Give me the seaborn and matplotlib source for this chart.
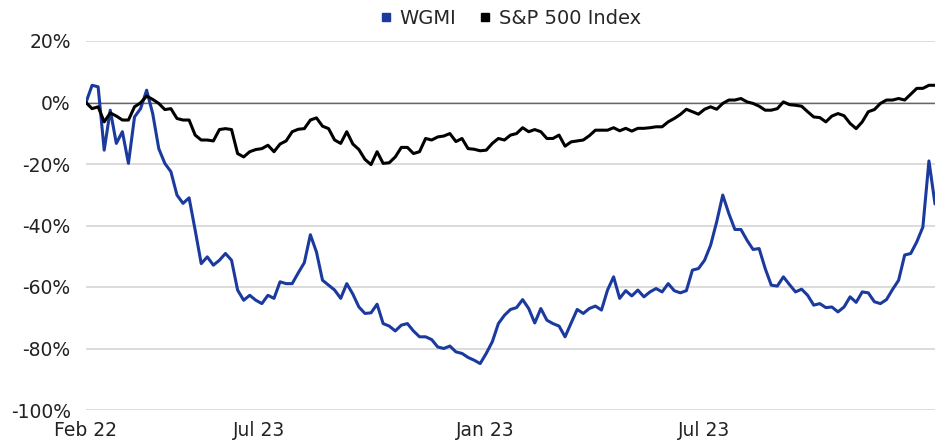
import pandas as pd
import matplotlib
matplotlib.use("Agg")
import matplotlib.pyplot as plt
import seaborn as sns
from matplotlib.lines import Line2D

# Cumulative returns (%), one value every 5 days from the fund's launch
dates = pd.date_range("2022-02-08", periods=141, freq="5D")

wgmi = [
    0, 5.6, 5.1, -15.5, -2.5, -13.3, -9.5, -19.8, -4.7, -2.0,
    4.0, -3.6, -15.0, -19.8, -22.5, -30.1, -32.8, -31.0, -41.5, -52.4,
    -50.2, -52.9, -51.3, -49.1, -51.3, -61.0, -64.3, -62.7, -64.3, -65.4,
    -62.7, -63.7, -58.3, -58.9, -58.9, -55.4, -52.1, -43.0, -48.6, -57.8,
    -59.4, -61.0, -63.7, -58.9, -62.3, -66.5, -68.6, -68.4, -65.6, -71.9,
    -72.7, -74.3, -72.4, -71.9, -74.3, -76.2, -76.2, -77.1, -79.5, -80.0,
    -79.2, -81.1, -81.6, -82.9, -83.8, -84.9, -81.6, -77.8, -71.9, -69.2,
    -67.3, -66.7, -64.1, -67.0, -71.7, -67.0, -70.8, -71.9, -72.7, -76.2,
    -71.7, -67.3, -68.6, -67.0, -66.2, -67.5, -61.0, -56.7, -63.7, -61.2,
    -62.9, -61.0, -63.2, -61.6, -60.5, -61.6, -58.9, -61.2, -61.9, -61.2,
    -54.5, -54.0, -51.3, -46.4, -38.8, -30.1, -36.1, -41.3, -41.3, -44.8,
    -47.8, -47.5, -54.0, -59.4, -59.7, -56.7, -59.2, -61.6, -60.7, -62.7,
    -65.9, -65.4, -66.7, -66.5, -68.1, -66.5, -63.2, -65.0, -61.6, -61.9,
    -64.8, -65.4, -64.1, -60.8, -57.8, -49.6, -49.1, -45.3, -40.5, -19.0,
    -33.0,
]

spx = [
    0, -2.0, -1.4, -6.3, -3.4, -4.4, -5.7, -5.7, -1.4, -0.1,
    2.1, 1.0, -0.3, -2.3, -2.0, -5.2, -5.7, -5.7, -10.6, -12.2,
    -12.2, -12.5, -8.8, -8.5, -8.8, -16.6, -17.7, -16.0, -15.3, -15.0,
    -13.9, -16.0, -13.5, -12.5, -9.5, -8.7, -8.5, -5.7, -5.0, -7.7,
    -8.5, -12.2, -13.3, -9.5, -13.5, -15.3, -18.5, -20.2, -16.0, -19.8,
    -19.6, -17.7, -14.6, -14.6, -16.6, -16.0, -11.7, -12.2, -11.2, -10.9,
    -10.1, -12.7, -11.7, -15.0, -15.2, -15.7, -15.5, -13.3, -11.7, -12.2,
    -10.6, -10.1, -8.2, -9.5, -8.8, -9.5, -11.7, -11.7, -10.6, -14.2,
    -12.8, -12.5, -12.2, -10.8, -9.0, -9.0, -9.0, -8.2, -9.2, -8.4,
    -9.3, -8.4, -8.4, -8.2, -7.9, -7.9, -6.3, -5.2, -3.9, -2.2,
    -3.0, -3.8, -2.2, -1.4, -2.2, -0.3, 0.8, 0.8, 1.3, 0.2,
    -0.3, -1.2, -2.5, -2.5, -2.0, 0.2, -0.7, -0.9, -1.2, -3.0,
    -4.7, -4.9, -6.3, -4.4, -3.6, -4.3, -6.8, -8.5, -6.3, -3.0,
    -2.3, -0.3, 0.8, 0.8, 1.3, 0.8, 2.7, 4.6, 4.6, 5.6,
    5.6,
]

tick_dates = pd.to_datetime(["2022-02-08", "2022-07-01", "2023-01-03", "2023-07-03"])
tick_labels = ["Feb 22", "Jul 23", "Jan 23", "Jul 23"]
series_names = ["WGMI", "S&P 500 Index"]
colors = {"WGMI": "#1b3a9e", "S&P 500 Index": "#000000"}

df = pd.DataFrame({"Date": dates, "WGMI": wgmi, "S&P 500 Index": spx})
df = df.melt(id_vars="Date", var_name="Series", value_name="Return")

sns.set_style("white")
plt.rcParams["font.family"] = ["DejaVu Sans"]

fig = plt.figure(figsize=(9.39, 4.43), dpi=100)
ax = fig.add_axes([86 / 939, 1 - 410 / 443, (935 - 86) / 939, (410 - 41) / 443])

sns.lineplot(data=df, x="Date", y="Return", hue="Series", hue_order=series_names,
             palette=colors, linewidth=2.2, ax=ax, legend=False)

ax.set_xlim(dates[0], dates[-1])
ax.set_ylim(-100, 20)
yt = list(range(-100, 21, 20))
ax.set_yticks(yt)
ax.set_yticklabels([f"{v}%" for v in yt])
ax.set_xticks(tick_dates)
ax.set_xticklabels(tick_labels)

ax.set_axisbelow(True)
ax.yaxis.grid(True, color="#d5d5d5", linewidth=1.2)
ax.axhline(0, color="#666666", linewidth=1, zorder=1.5)
for s in ax.spines.values():
    s.set_visible(False)
ax.tick_params(axis="both", length=0, labelsize=13.5, colors="#222222")
ax.tick_params(axis="y", pad=11)
ax.tick_params(axis="x", pad=8)
ax.set_xlabel("")
ax.set_ylabel("")

handles = [Line2D([], [], marker="s", linestyle="", color=colors[n], markersize=6) for n in series_names]
ax.legend(handles, series_names, loc="center", bbox_to_anchor=(0.5, 1 + 23 / 369), ncol=2,
          frameon=False, fontsize=14, handlelength=0.6, handletextpad=0.4,
          columnspacing=1.2, borderpad=0)

fig.savefig("out.png", dpi=100)
